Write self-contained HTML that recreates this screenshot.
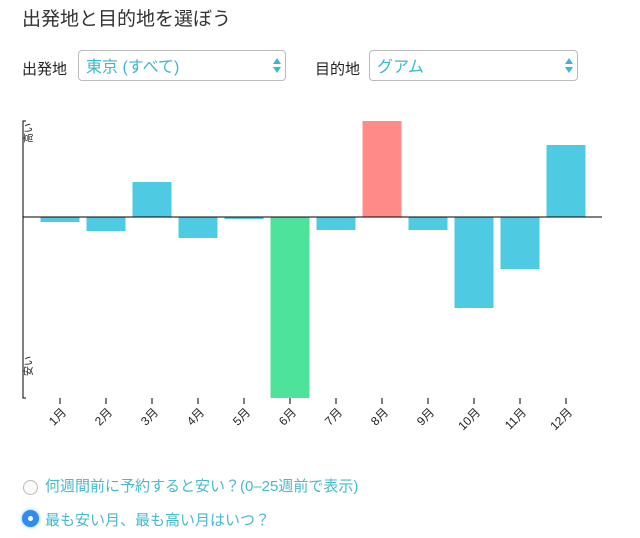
<!DOCTYPE html>
<html><head><meta charset="utf-8"><style>
body{margin:0;width:640px;height:538px;background:#fff;font-family:"Liberation Sans","Noto Sans CJK JP",sans-serif;position:relative;overflow:hidden}
.abs{position:absolute}
.sel{position:absolute;top:50px;height:31px;border:1px solid #bbb;border-radius:4px;background:#fff;color:#3bb8cc;font-size:16px;line-height:33px;padding-left:7px;box-sizing:border-box}
.arr{position:absolute;right:8px;top:7px;width:0;height:0}
.arr:before{content:"";position:absolute;left:-4px;top:0;border-left:4px solid transparent;border-right:4px solid transparent;border-bottom:6px solid #3bb8cc}
.arr:after{content:"";position:absolute;left:-4px;top:9px;border-left:4px solid transparent;border-right:4px solid transparent;border-top:6px solid #3bb8cc}
.rt{position:absolute;left:45px;font-size:15px;color:#48b9cc}
</style></head><body>
<div class="abs" style="left:22px;top:4px;font-size:19px;color:#333">出発地と目的地を選ぼう</div>
<div class="abs" style="left:22px;top:58px;font-size:15px;color:#222">出発地</div>
<div class="sel" style="left:78px;width:208px">東京 (すべて)<span class="arr"></span></div>
<div class="abs" style="left:315px;top:58px;font-size:15px;color:#222">目的地</div>
<div class="sel" style="left:369px;width:209px">グアム<span class="arr"></span></div>
<svg id="chart" class="abs" style="left:0;top:0" width="640" height="460"></svg>
<div class="abs" style="left:23px;top:480px;width:15px;height:15px;border:1px solid #bbb;border-radius:50%;box-sizing:border-box;background:#fafafa"></div>
<div class="rt" style="top:475px">何週間前に予約すると安い？(0–25週前で表示)</div>
<div class="abs" style="left:22px;top:510px;width:17px;height:17px;border-radius:50%;background:#2f8cf0;box-shadow:0 0 3px #6ab0ff"><div style="position:absolute;left:6px;top:6px;width:5px;height:5px;border-radius:50%;background:#fff"></div></div>
<div class="rt" style="top:509px">最も安い月、最も高い月はいつ？</div>
<script>
const months=["1月","2月","3月","4月","5月","6月","7月","8月","9月","10月","11月","12月"];
const values=[-5,-14,35,-21,-2,-181,-13,96,-13,-91,-52,72];
const NS="http://www.w3.org/2000/svg";
const svg=document.getElementById('chart');
const x0=60,step=46,bw=39,yTop=121,yBot=398;
const vmax=Math.max(...values),vmin=Math.min(...values);
const y=v=>yTop+(vmax-v)/(vmax-vmin)*(yBot-yTop);
const xc=i=>x0+i*step;
function mk(t,a){const e=document.createElementNS(NS,t);for(const k in a)e.setAttribute(k,a[k]);svg.appendChild(e);return e;}
const imax=values.indexOf(vmax),imin=values.indexOf(vmin);
values.forEach((v,i)=>{
 const r=mk('rect',{x:xc(i)-bw/2,y:Math.min(y(v),y(0)),width:bw,height:Math.abs(y(v)-y(0)),fill:i===imax?'#ff8a87':i===imin?'#4de39a':'#4ecbe2'});
 
 
 const t=mk('line',{x1:xc(i),x2:xc(i),y1:398,y2:404,stroke:'#000'});
 
 
 const lx=xc(i)+7,ly=413;
 const l=mk('text',{x:lx,y:ly,'font-size':12,'text-anchor':'end',transform:`rotate(-45 ${lx} ${ly})`,fill:'#222'});
 l.textContent=months[i];
 
 
});
const z=mk('line',{x1:23,x2:602,y1:y(0),y2:y(0),stroke:'#000'});


const ax=mk('path',{d:`M26,${yTop}H23V${yBot}H26`,fill:'none',stroke:'#000'});


const hi=mk('text',{x:0,y:0,'font-size':10,'text-anchor':'end',transform:`translate(32,${yTop+2}) rotate(-90)`,fill:'#222'});
hi.textContent='高い';


const lo=mk('text',{x:0,y:0,'font-size':10,'text-anchor':'start',transform:`translate(32,${yBot-22}) rotate(-90)`,fill:'#222'});
lo.textContent='安い';


</script>
</body></html>
